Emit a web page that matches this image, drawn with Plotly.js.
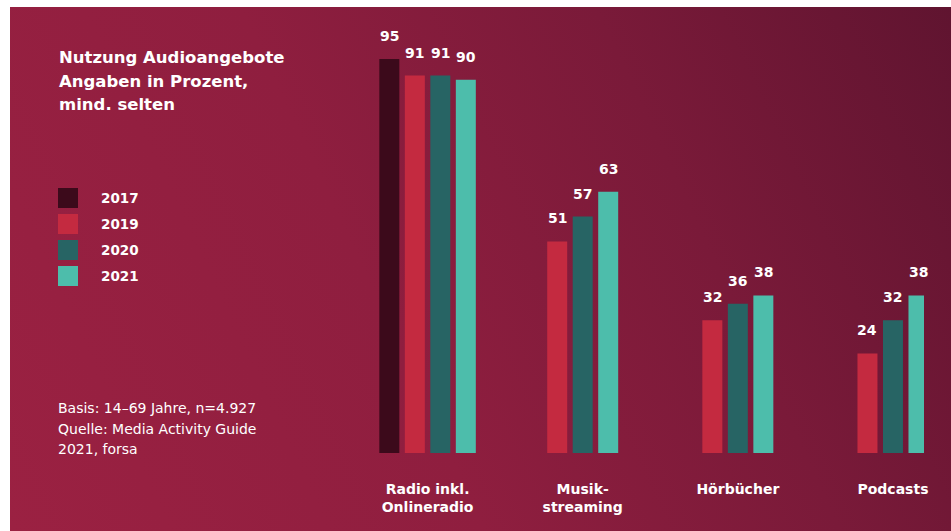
<!DOCTYPE html>
<html><head><meta charset="utf-8">
<script src="https://cdn.plot.ly/plotly-3.0.1.min.js"></script>
<style>
html,body{margin:0;padding:0;background:#fff;width:951px;height:531px;overflow:hidden}
#bg{position:absolute;left:10px;top:7px;width:941px;height:524px;
 background:linear-gradient(245deg,#601430 0%,#7a1a39 30%,#8f1e3f 60%,#9b2142 100%)}
#chart{position:absolute;left:0;top:0;width:951px;height:531px}
</style></head>
<body><div id="bg"></div><div id="chart"></div>
<script>
// ---- data ----
const categories = ["Radio inkl.<br>Onlineradio", "Musik-<br>streaming", "Hörbücher", "Podcasts"];
const seriesNames = ["2017", "2019", "2020", "2021"];
const v2017 = [95, null, null, null];
const v2019 = [91, 51, 32, 24];
const v2020 = [91, 57, 36, 32];
const v2021 = [90, 63, 38, 38];
const seriesColors = ["#3c0a1b", "#c42a40", "#276464", "#4dbdab"];
const titleLines = ["Nutzung Audioangebote", "Angaben in Prozent,", "mind. selten"];
const noteLines = ["Basis: 14–69 Jahre, n=4.927", "Quelle: Media Activity Guide", "2021, forsa"];

// ---- layout helpers ----
const W = 951, H = 531;
const M = {l: 350, r: 27, t: 20, b: 78};
const xRange = [-0.5, 3.2];
const unitPx = (W - M.l - M.r) / (xRange[1] - xRange[0]);
const barW = 20 / unitPx, pitch = 25.5 / unitPx;
const FONT = "DejaVu Sans, sans-serif";
const pxX = p => (p - M.l) / (W - M.l - M.r);
const pxY = p => 1 - (p - M.t) / (H - M.t - M.b);

const allSeries = [v2017, v2019, v2020, v2021];
// offsets: center the bars that exist in each category
const offsets = allSeries.map(() => categories.map(() => 0));
categories.forEach((c, i) => {
  const present = allSeries.map((s, k) => s[i] != null ? k : -1).filter(k => k >= 0);
  const n = present.length;
  present.forEach((k, j) => { offsets[k][i] = (j - (n - 1) / 2) * pitch - barW / 2; });
});

const traces = allSeries.map((s, k) => ({
  type: "bar", name: seriesNames[k], x: categories, y: s,
  offset: offsets[k], width: categories.map(() => barW),
  marker: {color: seriesColors[k], line: {width: 0}},
  showlegend: false, hoverinfo: "skip"
}));

const annotations = [];
allSeries.forEach((s, k) => s.forEach((v, i) => {
  if (v == null) return;
  annotations.push({x: i + offsets[k][i] + barW / 2, y: v, xref: "x", yref: "y",
    text: String(v), showarrow: false, yanchor: "bottom", yshift: 13,
    font: {family: FONT, size: 14, color: "#fff", weight: 700}});
}));
// title lines
titleLines.forEach((t, j) => annotations.push({xref: "paper", yref: "paper",
  x: pxX(57), y: pxY(58 + j * 23), xanchor: "left", yanchor: "middle", showarrow: false,
  text: t, font: {family: FONT, size: 16.5, color: "#fff", weight: 700}}));
// legend
const legendTop = 188, legendStep = 26;
const shapes = [];
seriesNames.forEach((nm, k) => {
  const y0 = legendTop + k * legendStep;
  shapes.push({type: "rect", xref: "paper", yref: "paper",
    x0: pxX(58), x1: pxX(78), y0: pxY(y0), y1: pxY(y0 + 20),
    fillcolor: seriesColors[k], line: {width: 0}});
  annotations.push({xref: "paper", yref: "paper", x: pxX(99), y: pxY(y0 + 10),
    xanchor: "left", yanchor: "middle", showarrow: false, text: nm,
    font: {family: FONT, size: 13.5, color: "#fff", weight: 700}});
});
// footnote lines
noteLines.forEach((t, j) => annotations.push({xref: "paper", yref: "paper",
  x: pxX(56), y: pxY(408 + j * 20.5), xanchor: "left", yanchor: "middle", showarrow: false,
  text: t, font: {family: FONT, size: 14, color: "#fff"}}));

const layout = {
  width: W, height: H, margin: M,
  paper_bgcolor: "rgba(0,0,0,0)", plot_bgcolor: "rgba(0,0,0,0)",
  barmode: "overlay", showlegend: false,
  xaxis: {type: "category", range: xRange, showgrid: false, zeroline: false, showline: false,
    ticks: "", ticklabelstandoff: 26,
    tickfont: {family: FONT, size: 14, color: "#fff", weight: 700}, fixedrange: true},
  yaxis: {range: [0, 104.4], visible: false, showgrid: false, zeroline: false, fixedrange: true},
  annotations: annotations, shapes: shapes
};
Plotly.newPlot("chart", traces, layout, {displayModeBar: false, staticPlot: true});
</script>
</body></html>
